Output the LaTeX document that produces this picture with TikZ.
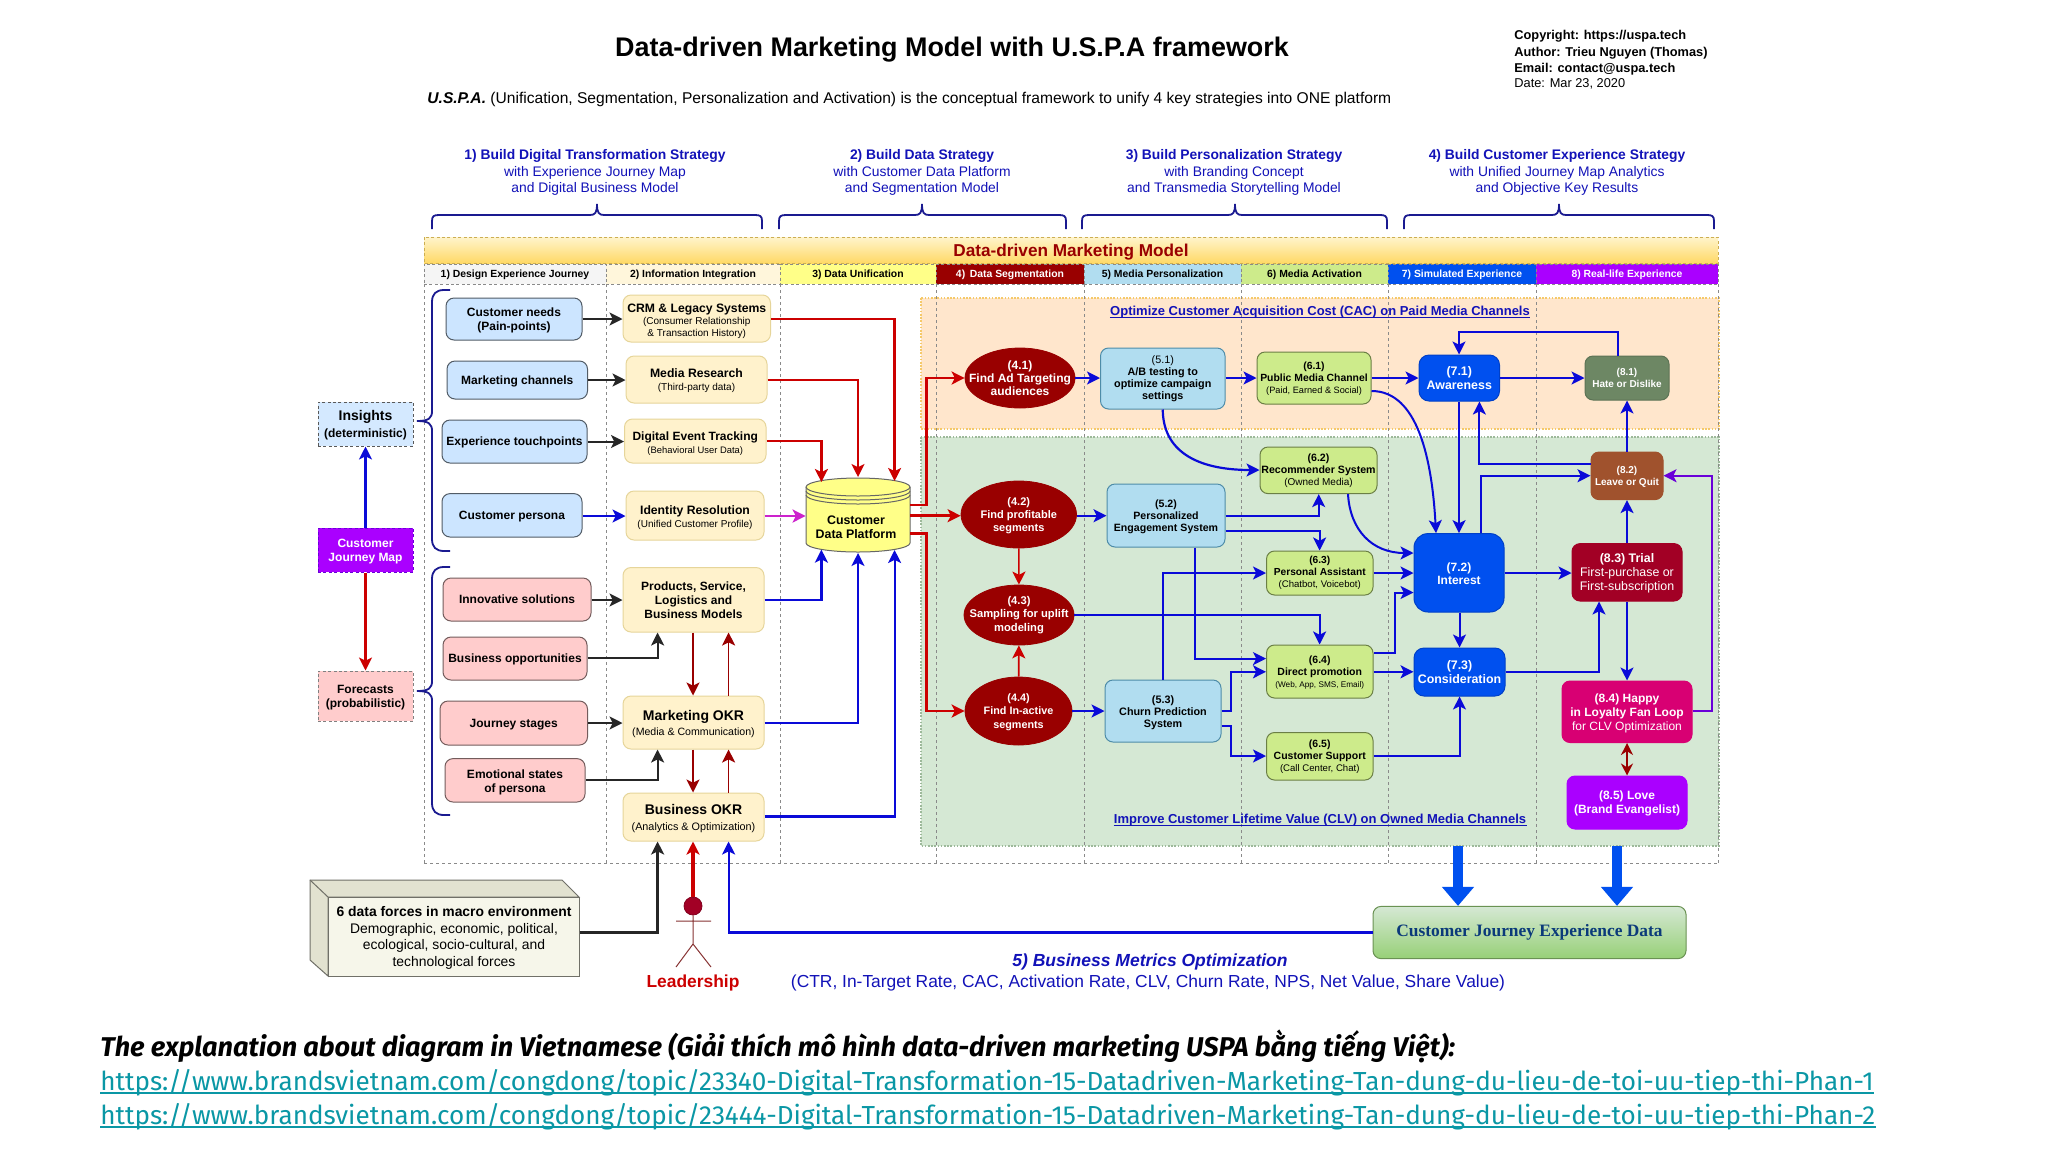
\documentclass[tikz,border=0pt]{standalone}
\usepackage{fontspec}
\setmainfont{Liberation Sans}
\newfontfamily\botfont{Fira Sans}
\newfontfamily\serfont{Liberation Serif}
\usetikzlibrary{arrows.meta,shapes.geometric,calc}
\definecolor{hblue}{HTML}{1212B8}
\definecolor{cbrace}{HTML}{1A1A90}
\definecolor{lane}{HTML}{8A8A8A}
\definecolor{cbluefill}{HTML}{CCE5FF}
\definecolor{cpink}{HTML}{FFCCCC}
\definecolor{cyel}{HTML}{FFF2CC}
\definecolor{cyelb}{HTML}{E6D59A}
\definecolor{csky}{HTML}{B1DDF0}
\definecolor{cskyb}{HTML}{4E8CA8}
\definecolor{clime}{HTML}{CDEB8B}
\definecolor{climeb}{HTML}{6B7F45}
\definecolor{csim}{HTML}{0050EF}
\definecolor{csimb}{HTML}{0040C8}
\definecolor{cviol}{HTML}{AA00FF}
\definecolor{cmaroon}{HTML}{990000}
\definecolor{cedge}{HTML}{0A0AD8}
\definecolor{cred}{HTML}{CC0000}
\definecolor{cmag}{HTML}{CC22CC}
\definecolor{cpurp}{HTML}{6A00D8}
\definecolor{corg}{HTML}{FFE6CC}
\definecolor{cgrn}{HTML}{D5E8D4}
\definecolor{cteal}{HTML}{0A97A5}
\definecolor{cbandt}{HTML}{FFF4CC}
\definecolor{cbandb}{HTML}{FFD966}
\definecolor{cmoss}{HTML}{6D8764}
\definecolor{cbrown}{HTML}{A0522D}
\definecolor{ccrim}{HTML}{A20025}
\definecolor{crose}{HTML}{D80073}
\definecolor{cjedt}{HTML}{D5E8D4}
\definecolor{cjedb}{HTML}{97D077}
\definecolor{cjedi}{HTML}{0B3A7A}
\definecolor{cdpy}{HTML}{FFFF88}
\definecolor{cubef}{HTML}{F6F6EA}
\definecolor{cubes}{HTML}{E2E2D0}
\definecolor{cubeb}{HTML}{707068}
\definecolor{grnb}{HTML}{9DB99A}
\definecolor{orgb}{HTML}{F5C96A}
\newcommand{\F}[2]{\fontsize{#1}{#2}\selectfont}
\newcommand{\U}[1]{\rule{0pt}{\dimexpr.73em+#1pt*2\relax}}
\newcommand{\B}[7]{\node[#2,minimum width={(#5-#3)*0.5pt},minimum height={(#6-#4)*0.5pt}] (#1) at ({(#3+#5)/2},{(#4+#6)/2}) {#7};}
\newcommand{\TB}[3]{\draw[bracet] (#1,229) -- (#1,221) .. controls (#1,216) and (#1+2,215) .. (#1+7,215) -- (#2-7,215) .. controls (#2-2,215) and (#2,213) .. (#2,204) .. controls (#2,213) and (#2+2,215) .. (#2+7,215) -- (#3-7,215) .. controls (#3-2,215) and (#3,216) .. (#3,221) -- (#3,229);}
\newcommand{\LB}[3]{\draw[bracet] (450,#1) -- (444,#1) .. controls (436,#1) and (432,#1+4) .. (432,#1+12) -- (432,#2-10) .. controls (432,#2-3) and (429,#2) .. (417,#2) .. controls (429,#2) and (432,#2+3) .. (432,#2+10) -- (432,#3-12) .. controls (432,#3-4) and (436,#3) .. (444,#3) -- (450,#3);}
\tikzset{
 ft/.style 2 args={font=\F{#1}{#2}},
 bracet/.style={draw=cbrace,line width=.9pt},
 box/.style={draw,inner sep=0pt,align=center,rounded corners=4pt,line width=.5pt,text=black},
 bluebox/.style={box,fill=cbluefill,draw=black!60!cbluefill},
 pinkbox/.style={box,fill=cpink,draw=black!55!cpink},
 yelbox/.style={box,fill=cyel,draw=cyelb},
 skybox/.style={box,fill=csky,draw=cskyb},
 limebox/.style={box,fill=clime,draw=climeb},
 simbox/.style={box,fill=csim,draw=csimb,text=white,rounded corners=5pt},
 realbox/.style={box,text=white,rounded corners=4pt},
 ell/.style={ellipse,draw=cmaroon,fill=cmaroon,text=white,inner sep=-10pt,align=center},
 side/.style={draw,inner sep=0pt,align=center,line width=.5pt,dash pattern=on 1.5pt off 1.2pt},
 lbl/.style={inner sep=0pt,align=center},
 lanebox/.style={draw=lane,line width=.4pt,dash pattern=on 1.5pt off 1.5pt},
 hdr/.style={draw=lane,inner sep=0pt,align=center,line width=.4pt,dash pattern=on 1.5pt off 1.2pt,font=\F{5.2}{6}\bfseries},
 tipS/.style={-{Stealth[length=6.5pt,width=6.5pt,inset=1.6pt]}},
 bl/.style={draw=cedge,line width=1pt,tipS},
 blt/.style={draw=cedge,line width=1.1pt,tipS},
 rd/.style={draw=cred,line width=1.3pt,tipS},
 bk/.style={draw=black!85,line width=1pt,tipS},
 dr/.style={draw=cmaroon,line width=.8pt,tipS},
 big/.style={draw=csim,line width=5pt,-{Triangle[length=9.5pt,width=15.5pt]}},
 hd/.style={lbl,text=hblue,ft={6.93}{8.45}},
}
\begin{document}
\begin{tikzpicture}[x=0.5pt,y=-0.5pt]
\useasboundingbox (0,0) rectangle (2048,1152);
\fill[white] (0,0) rectangle (2048,1152);

% ---------- titles
\node[lbl,font=\F{13.45}{15}\bfseries] (title) at (952,49.5) {Data-driven Marketing Model with U.S.P.A framework};
\node[lbl,anchor=west,font=\F{7.8}{10}] (sub) at (427,99) {\textbf{\textit{U.S.P.A.}} (Unification, Segmentation, Personalization and Activation) is the conceptual framework to unify 4 key strategies into ONE platform};
\node[lbl,anchor=west,font=\F{6.4}{8}\bfseries] (c1) at (1514,36) {Copyright: https://uspa.tech};
\node[lbl,anchor=west,font=\F{6.4}{8}\bfseries] (c2) at (1514,53) {Author: Trieu Nguyen (Thomas)};
\node[lbl,anchor=west,font=\F{6.4}{8}\bfseries] (c3) at (1514,69) {Email: contact@uspa.tech};
\node[lbl,anchor=west,font=\F{6.4}{8}] (c4) at (1514,84) {Date: Mar 23, 2020};

\node[hd] (h1) at (595,172.5) {\textbf{1) Build Digital Transformation Strategy}\\with Experience Journey Map\\and Digital Business Model};
\node[hd] (h2) at (922,172.5) {\textbf{2) Build Data Strategy}\\with Customer Data Platform\\and Segmentation Model};
\node[hd] (h3) at (1234,172.5) {\textbf{3) Build Personalization Strategy}\\with Branding Concept\\and Transmedia Storytelling Model};
\node[hd] (h4) at (1557,172.5) {\textbf{4) Build Customer Experience Strategy}\\with Unified Journey Map Analytics\\and Objective Key Results};
\TB{432}{597}{762}
\TB{779}{922}{1066}
\TB{1082}{1235}{1387}
\TB{1404}{1559}{1714}

% ---------- regions
\fill[corg] (921,298) rectangle (1719,429);
\draw[draw=orgb,line width=.6pt,dash pattern=on .8pt off .8pt] (921,298) rectangle (1719,429);
\fill[cgrn] (921,437) rectangle (1719,846);
\draw[draw=grnb,line width=.6pt,dash pattern=on .8pt off .8pt] (921,437) rectangle (1719,846);

% ---------- band and lanes
\path[top color=cbandt,bottom color=cbandb] (424,237) rectangle (1718,263);
\draw[draw=cbandb!80!black,line width=.4pt,dash pattern=on 1.5pt off 1.2pt] (424,237) rectangle (1718,263);
\node[lbl,text=cmaroon,font=\F{8.6}{10}\bfseries] (band) at (1071,252) {Data-driven Marketing Model};
\foreach \a in {424,606,780,936,1084,1241,1388,1536,1718}
  \draw[lanebox] (\a,284) -- (\a,863);
\draw[lanebox] (424,863) -- (1718,863);
\B{l1}{hdr,fill=black!4}{424}{264}{606}{284}{\U{.4}1) Design Experience Journey}
\B{l2}{hdr,fill=cyel!70}{606}{264}{780}{284}{\U{.4}2) Information Integration}
\B{l3}{hdr,fill=cdpy}{780}{264}{936}{284}{\U{.4}3) Data Unification}
\B{l4}{hdr,fill=cmaroon,text=white}{936}{264}{1084}{284}{\U{.4}4)\, Data Segmentation}
\B{l5}{hdr,fill=csky}{1084}{264}{1241}{284}{\U{.4}5) Media Personalization}
\B{l6}{hdr,fill=clime}{1241}{264}{1388}{284}{\U{.4}6) Media Activation}
\B{l7}{hdr,fill=csim,text=white}{1388}{264}{1536}{284}{\U{.4}7) Simulated Experience}
\B{l8}{hdr,fill=cviol,text=white}{1536}{264}{1718}{284}{\U{.4}8) Real-life Experience}

\node[lbl,text=hblue,font=\F{6.5}{8}\bfseries] (opt) at (1320,312) {Optimize Customer Acquisition Cost (CAC) on Paid Media Channels};
\draw[hblue,line width=.5pt] ([yshift=-1.2pt]opt.base west) -- ([yshift=-1.2pt]opt.base east);
\node[lbl,text=hblue,font=\F{6.5}{8}\bfseries] (imp) at (1320,820) {Improve Customer Lifetime Value (CLV) on Owned Media Channels};
\draw[hblue,line width=.5pt] ([yshift=-1.2pt]imp.base west) -- ([yshift=-1.2pt]imp.base east);

% ---------- left column
\B{ins}{side,fill=cbluefill!85!white,draw=black!65,ft={6}{8.2}}{318}{402}{413}{446}{\F{7}{8.2}\U{.5}\textbf{Insights}\\\textbf{(deterministic)}}
\B{cjm}{side,fill=cviol,draw=cpurp,text=white,ft={6}{7.2}}{318}{528}{413}{572}{\U{.7}\textbf{Customer}\\\textbf{Journey Map}}
\B{fore}{side,fill=cpink,draw=black!50,ft={6}{7}}{318}{671}{413}{721}{\U{.8}\textbf{Forecasts}\\\textbf{(probabilistic)}}
\LB{290}{421}{551}
\LB{567}{691}{815}

\B{needs}{bluebox,ft={6}{7}}{446}{298}{582}{340}{\U{.5}\textbf{Customer needs}\\\textbf{(Pain-points)}}
\B{chan}{bluebox,ft={6}{7}}{447}{361}{587.5}{399}{\U{.5}\textbf{Marketing channels}}
\B{touch}{bluebox,ft={6}{7}}{442}{420}{587}{463}{\U{.5}\textbf{Experience touchpoints}}
\B{pers}{bluebox,ft={6}{7}}{442}{493.6}{582}{537}{\U{.5}\textbf{Customer persona}}
\B{innov}{pinkbox,ft={6}{7}}{443}{578}{591}{621}{\textbf{Innovative solutions}}
\B{opp}{pinkbox,ft={6}{7}}{443}{637}{587}{680}{\U{.6}\textbf{Business opportunities}}
\B{stages}{pinkbox,ft={6}{7}}{440}{701}{587.5}{745}{\U{.8}\textbf{Journey stages}}
\B{emo}{pinkbox,ft={6}{7}}{445}{758.6}{585}{802}{\U{.8}\textbf{Emotional states}\\\textbf{of persona}}

\B{crm}{yelbox,ft={5}{6.2}}{623}{295}{770.5}{342}{\F{6.1}{6.2}\U{1.3}\textbf{CRM \& Legacy Systems}\\(Consumer Relationship\\\& Transaction History)}
\B{media}{yelbox,ft={5}{6.5}}{626}{356}{767}{403}{\F{6.1}{6.5}\U{.6}\textbf{Media Research}\\(Third-party data)}
\B{det}{yelbox,ft={4.7}{6.5}}{624.5}{419}{766}{463}{\F{6}{6.5}\U{1.3}\textbf{Digital Event Tracking}\\(Behavioral User Data)}
\B{idr}{yelbox,ft={5}{6.4}}{626}{491}{764}{540}{\F{6.1}{6.4}\U{.9}\textbf{Identity Resolution}\\(Unified Customer Profile)}
\B{prod}{yelbox,ft={6}{7}}{623}{567.5}{764}{632}{\textbf{Products, Service,}\\\textbf{Logistics and}\\\textbf{Business Models}}
\B{mokr}{yelbox,ft={5.3}{7.6}}{623}{696}{764}{749}{\F{7}{7.6}\U{.9}\textbf{Marketing OKR}\\(Media \& Communication)}
\B{bokr}{yelbox,ft={5.4}{8}}{623}{793}{764}{841}{\F{7}{8}\U{.9}\textbf{Business OKR}\\(Analytics \& Optimization)}

% ---------- CDP cylinder
\draw[fill=cdpy,draw=black!60,line width=.5pt] (806,487) arc[start angle=180,end angle=0,x radius=26pt,y radius=4.5pt] -- (910,543) arc[start angle=0,end angle=-180,x radius=26pt,y radius=4.5pt] -- cycle;
\foreach \y in {487,491,495}
  \draw[draw=black!60,line width=.5pt] (806,\y) arc[start angle=180,end angle=360,x radius=26pt,y radius=4.5pt];
\B{cdp}{lbl}{806}{479}{910}{552.5}{}
\node[lbl,font=\F{6.2}{7}\bfseries] (cdpt) at (856,527) {Customer\\Data Platform};
\coordinate (cdpt1) at (821.4,482);
\coordinate (cdpt2) at (858,477);
\coordinate (cdpt3) at (894.6,481);
\coordinate (cdpb1) at (821.4,549.6);
\coordinate (cdpb2) at (858,553);
\coordinate (cdpb3) at (894.6,550);

% ---------- ellipses
\B{e41}{ell,ft={6}{6.5}}{965}{348}{1075}{408}{\textbf{(4.1)}\\\textbf{Find Ad Targeting}\\\textbf{audiences}}
\B{e42}{ell,ft={5.5}{6.6}}{961}{481}{1076.5}{548}{\U{.5}\textbf{(4.2)}\\\textbf{Find profitable}\\\textbf{segments}}
\B{e43}{ell,ft={5.6}{6.6}}{964}{585}{1074}{645}{\textbf{(4.3)}\\\textbf{Sampling for uplift}\\\textbf{modeling}}
\B{e44}{ell,ft={5.4}{6.6}}{965}{677}{1072}{745}{\U{.5}\textbf{(4.4)}\\\textbf{Find In-active}\\\textbf{segments}}

% ---------- personalization
\B{b51}{skybox,ft={5.4}{6.05}}{1100.5}{348}{1225}{409}{(5.1)\\\textbf{A/B testing to}\\\textbf{optimize campaign}\\\textbf{settings}}
\B{b52}{skybox,ft={5.3}{6}}{1107}{484}{1225}{547}{\U{.6}\textbf{(5.2)}\\\textbf{Personalized}\\\textbf{Engagement System}}
\B{b53}{skybox,ft={5.4}{6}}{1105}{680}{1221}{742}{\U{.6}\textbf{(5.3)}\\\textbf{Churn Prediction}\\\textbf{System}}

% ---------- activation
\B{b61}{limebox,ft={5.2}{6.1}}{1257}{352}{1371}{404}{\U{.4}\textbf{(6.1)}\\\textbf{Public Media Channel}\\\F{4.6}{6.1}(Paid, Earned \& Social)}
\B{b62}{limebox,ft={5.3}{6.1}}{1260}{447}{1377}{493.6}{\U{.3}\textbf{(6.2)}\\\textbf{Recommender System}\\\F{5}{6.1}(Owned Media)}
\B{b63}{limebox,ft={5.1}{5.9}}{1266.5}{551}{1373}{595}{\textbf{(6.3)}\\\textbf{Personal Assistant}\\\F{4.8}{5.9}(Chatbot, Voicebot)}
\B{b64}{limebox,ft={5.25}{6}}{1266.5}{645}{1373}{698}{\U{.3}\textbf{(6.4)}\\\textbf{Direct promotion}\\\F{4.1}{6}(Web, App, SMS, Email)}
\B{b65}{limebox,ft={5.25}{6}}{1266.5}{732.5}{1373}{780}{\U{.4}\textbf{(6.5)}\\\textbf{Customer Support}\\\F{4.8}{6}(Call Center, Chat)}

% ---------- simulated
\B{b71}{simbox,ft={6.2}{6.9}}{1419}{355}{1499.5}{401}{\textbf{(7.1)}\\\textbf{Awareness}}
\B{b72}{simbox,rounded corners=7pt,ft={6}{6.8}}{1414}{533.6}{1504}{612}{\U{.4}\textbf{(7.2)}\\\textbf{Interest}}
\B{b73}{simbox,ft={6.2}{6.9}}{1414}{648}{1505}{696}{\textbf{(7.3)}\\\textbf{Consideration}}

% ---------- real-life
\B{b81}{realbox,fill=cmoss,draw=cmoss!85!black,ft={5}{6.2}}{1585}{356}{1669}{400}{\textbf{(8.1)}\\\textbf{Hate or Dislike}}
\B{b82}{realbox,fill=cbrown,draw=cbrown,ft={5}{6.2}}{1591}{452}{1663}{499.6}{\U{.4}\textbf{(8.2)}\\\textbf{Leave or Quit}}
\B{b83}{realbox,fill=ccrim,draw=ccrim,ft={6.2}{7.2}}{1572}{543.6}{1682}{601}{\U{.5}\textbf{(8.3) Trial}\\First-purchase or\\First-subscription}
\B{b84}{realbox,fill=crose,draw=crose,ft={6}{7}}{1562}{681}{1692}{742.5}{\U{.8}\textbf{(8.4) Happy}\\\textbf{in Loyalty Fan Loop}\\for CLV Optimization}
\B{b85}{realbox,fill=cviol,draw=cviol,ft={6}{7}}{1567}{776}{1687}{829}{\U{.6}\textbf{(8.5) Love}\\\textbf{(Brand Evangelist)}}

% ---------- bottom left
\draw[fill=cubes,draw=cubeb,line width=.5pt] (310,880) -- (562,880) -- (579,897) -- (328,897) -- (328,976) -- (310,960) -- cycle;
\draw[draw=cubeb,line width=.5pt] (310,880) -- (328,897);
\B{cube}{lbl,fill=cubef,draw=cubeb,line width=.5pt}{328}{897}{579}{976}{}
\node[lbl,ft={6.95}{8.27}] (cubet) at (454,938) {\textbf{6 data forces in macro environment}\\Demographic, economic, political,\\ecological, socio-cultural, and\\technological forces};

\node[circle,fill=ccrim,draw=ccrim!80!black,minimum size=9pt,inner sep=0pt] (head) at (693,906) {};
\draw[draw=black!45!red!60!gray,line width=.5pt] (head.south) -- (693,944) (676,921) -- (711,921) (676,967) -- (693,944) -- (711,967);
\node[lbl,text=cred,font=\F{8.7}{10}\bfseries] (lead) at (693,983) {Leadership};

\B{cjed}{box,top color=cjedt,bottom color=cjedb,draw=cjedb!70!black,rounded corners=4pt}{1373}{906.4}{1686}{958.6}{\serfont\F{8.7}{10}\bfseries\color{cjedi}Customer Journey Experience Data}

\node[lbl,text=hblue,font=\F{8.75}{10}\bfseries\itshape] (metr) at (1150,962) {5) Business Metrics Optimization};
\node[lbl,text=hblue,font=\F{8.7}{10}] (metr2) at (1148,983) {(CTR, In-Target Rate, CAC, Activation Rate, CLV, Churn Rate, NPS, Net Value, Share Value)};

% ---------- text at the foot
\node[lbl,anchor=base west,font=\botfont\F{13.56}{16}\bfseries\itshape] (ex) at (100,1056) {The explanation about diagram in Vietnamese (Giải thích mô hình data-driven marketing USPA bằng tiếng Việt):};
\node[lbl,anchor=base west,text=cteal,font=\botfont\F{13.05}{16}] (ln1) at (100,1090) {https://www.brandsvietnam.com/congdong/topic/23340-Digital-Transformation-15-Datadriven-Marketing-Tan-dung-du-lieu-de-toi-uu-tiep-thi-Phan-1};
\draw[cteal,line width=1.1pt] ([yshift=-1.6pt]ln1.base west) -- ([yshift=-1.6pt]ln1.base east);
\node[lbl,anchor=base west,text=cteal,font=\botfont\F{13.05}{16}] (ln2) at (100,1124) {https://www.brandsvietnam.com/congdong/topic/23444-Digital-Transformation-15-Datadriven-Marketing-Tan-dung-du-lieu-de-toi-uu-tiep-thi-Phan-2};
\draw[cteal,line width=1.1pt] ([yshift=-1.6pt]ln2.base west) -- ([yshift=-1.6pt]ln2.base east);

% ---------- connectors: left
\draw[draw=cedge,line width=1.1pt,tipS] (cjm) -- (ins);
\draw[draw=cred,line width=1.1pt,tipS] (cjm) -- (fore);
\draw[bk] (needs.east |- 0,319) -- (crm.west |- 0,319);
\draw[bk] (chan.east |- 0,380) -- (media.west |- 0,380);
\draw[bk] (touch.east |- 0,441.5) -- (det.west |- 0,441.5);
\draw[bl] (pers.east |- 0,516) -- (idr.west |- 0,516);
\draw[draw=cmag,line width=1.3pt,tipS] (idr.east |- 0,516) -- (cdp.west |- 0,516);
\draw[bk] (innov.east |- 0,600) -- (prod.west |- 0,600);
\draw[bk] (opp.east |- 0,658) -- (657.6,658) -- (prod.south -| 657.6,0);
\draw[bk] (stages.east |- 0,723) -- (mokr.west |- 0,723);
\draw[bk] (emo.east |- 0,780) -- (657.6,780) -- (mokr.south -| 657.6,0);
\draw[dr] (prod.south -| 693,0) -- (mokr.north -| 693,0);
\draw[dr] (mokr.north -| 728.6,0) -- (prod.south -| 728.6,0);
\draw[dr] (mokr.south -| 693,0) -- (bokr.north -| 693,0);
\draw[dr] (bokr.north -| 728.6,0) -- (mokr.south -| 728.6,0);
% into the platform
\draw[rd] (crm.east |- 0,319) -- (894.6,319) -- (cdpt3);
\draw[rd] (media.east |- 0,380) -- (858,380) -- (cdpt2);
\draw[rd] (det.east |- 0,441) -- (821.4,441) -- (cdpt1);
\draw[blt] (prod.east |- 0,600) -- (821.4,600) -- (cdpb1);
\draw[blt] (mokr.east |- 0,723) -- (858,723) -- (cdpb2);
\draw[blt] (bokr.east |- 0,816.4) -- (894.6,816.4) -- (cdpb3);
% out of the platform
\draw[rd] (cdp.east |- 0,505) -- (926.3,505) -- (926.3,378) -- (e41);
\draw[rd] (cdp.east |- 0,515.7) -- (e42.west |- 0,515.7);
\draw[rd] (cdp.east |- 0,533.6) -- (926.3,533.6) -- (926.3,711) -- (e44.west |- 0,711);
\draw[dr,draw=cred] (e42) -- (e43);
\draw[dr,draw=cred] (e44) -- (e43);
% bottom
\draw[bk,line width=1.3pt] (cube.east |- 0,932.5) -- (657.6,932.5) -- (bokr.south -| 657.6,0);
\draw[rd,line width=1.6pt] (head) -- (bokr.south -| 693,0);
\draw[blt] (cjed.west |- 0,932.5) -- (728.6,932.5) -- (bokr.south -| 728.6,0);
\coordinate (g1) at (1458,846);
\coordinate (g2) at (1617,846);
\draw[big] (g1) -- (cjed.north -| g1);
\draw[big] (g2) -- (cjed.north -| g2);
% paid row
\draw[blt] (e41) -- (b51.west |- e41);
\draw[blt] (b51.east |- 0,378) -- (b61.west |- 0,378);
\draw[blt] (b61.east |- 0,378) -- (b71.west |- 0,378);
\draw[blt] (b71.east |- 0,378) -- (b81.west |- 0,378);
\draw[bl] (b81.north -| 1618,0) -- (1618,332) -- (1459,332) -- (b71.north -| 1459,0);
\draw[bl] (b82) -- (b81);
\draw[bl] (b83) -- (b82);
% curves
\draw[blt] (b51.south) .. controls (1163,450) and (1195,470) .. (b62.west |- 0,470);
\draw[bl] (b61.east |- 0,391) .. controls (1418,391) and (1432,460) .. (b72.north -| 1436,0);
\draw[bl] (b71.south -| 1459,0) -- (b72.north -| 1459,0);
\draw[bl] (b72.north -| 1481,0) -- (1481,475.7) -- (b82.west |- 0,475.7);
\draw[bl] (b82.west |- 0,463.7) -- (1479.4,463.7) -- (b71.south -| 1479.4,0);
\draw[bl] (b62.south -| 1348,0) .. controls (1350,530) and (1372,553) .. (b72.west |- 0,553);
% middle
\draw[blt] (e42.east |- 0,515.7) -- (b52.west |- 0,515.7);
\draw[blt] (e44.east |- 0,711) -- (b53.west |- 0,711);
\draw[bl] (b52.east |- 0,515.7) -- (1318.7,515.7) -- (b62.south -| 1318.7,0);
\draw[bl] (b52.east |- 0,531) -- (1319.6,531) -- (b63.north -| 1319.6,0);
\draw[bl] (b52.south -| 1195,0) -- (1195,658.6) -- (b64.west |- 0,658.6);
\draw[bl] (b53.north -| 1163,0) -- (1163,573) -- (b63.west |- 0,573);
\draw[bl] (e43.east) -- (1319.6,615) -- (b64.north -| 1319.6,0);
\draw[bl] (b53.east |- 0,711) -- (1230.6,711) -- (1230.6,671.8) -- (b64.west |- 0,671.8);
\draw[bl] (b53.east |- 0,726) -- (1230.6,726) -- (1230.6,756) -- (b65.west |- 0,756);
\draw[bl] (b63.east |- 0,573) -- (b72.west |- 0,573);
\draw[bl] (b64.east |- 0,653) -- (1394.7,653) -- (1394.7,592.5) -- (b72.west |- 0,592.5);
\draw[bl] (b64.east |- 0,671.8) -- (b73.west |- 0,671.8);
\draw[bl] (b72.south -| 1459.5,0) -- (b73.north -| 1459.5,0);
\draw[bl] (b72.east |- 0,573) -- (b83.west |- 0,573);
\draw[bl] (b73.east |- 0,671.8) -- (1599,671.8) -- (b83.south -| 1599,0);
\draw[bl] (b65.east |- 0,756) -- (1459.5,756) -- (b73.south -| 1459.5,0);
\draw[bl] (b83.south -| 1627,0) -- (b84.north -| 1627,0);
\draw[draw=cmaroon,line width=1pt,{Stealth[length=6pt,width=6pt]}-{Stealth[length=6pt,width=6pt]}] (b84.south -| 1627,0) -- (b85.north -| 1627,0);
\draw[draw=cpurp,line width=1pt,tipS] (b84.east |- 0,711) -- (1712,711) -- (1712,475.7) -- (b82.east |- 0,475.7);
\end{tikzpicture}
\end{document}
